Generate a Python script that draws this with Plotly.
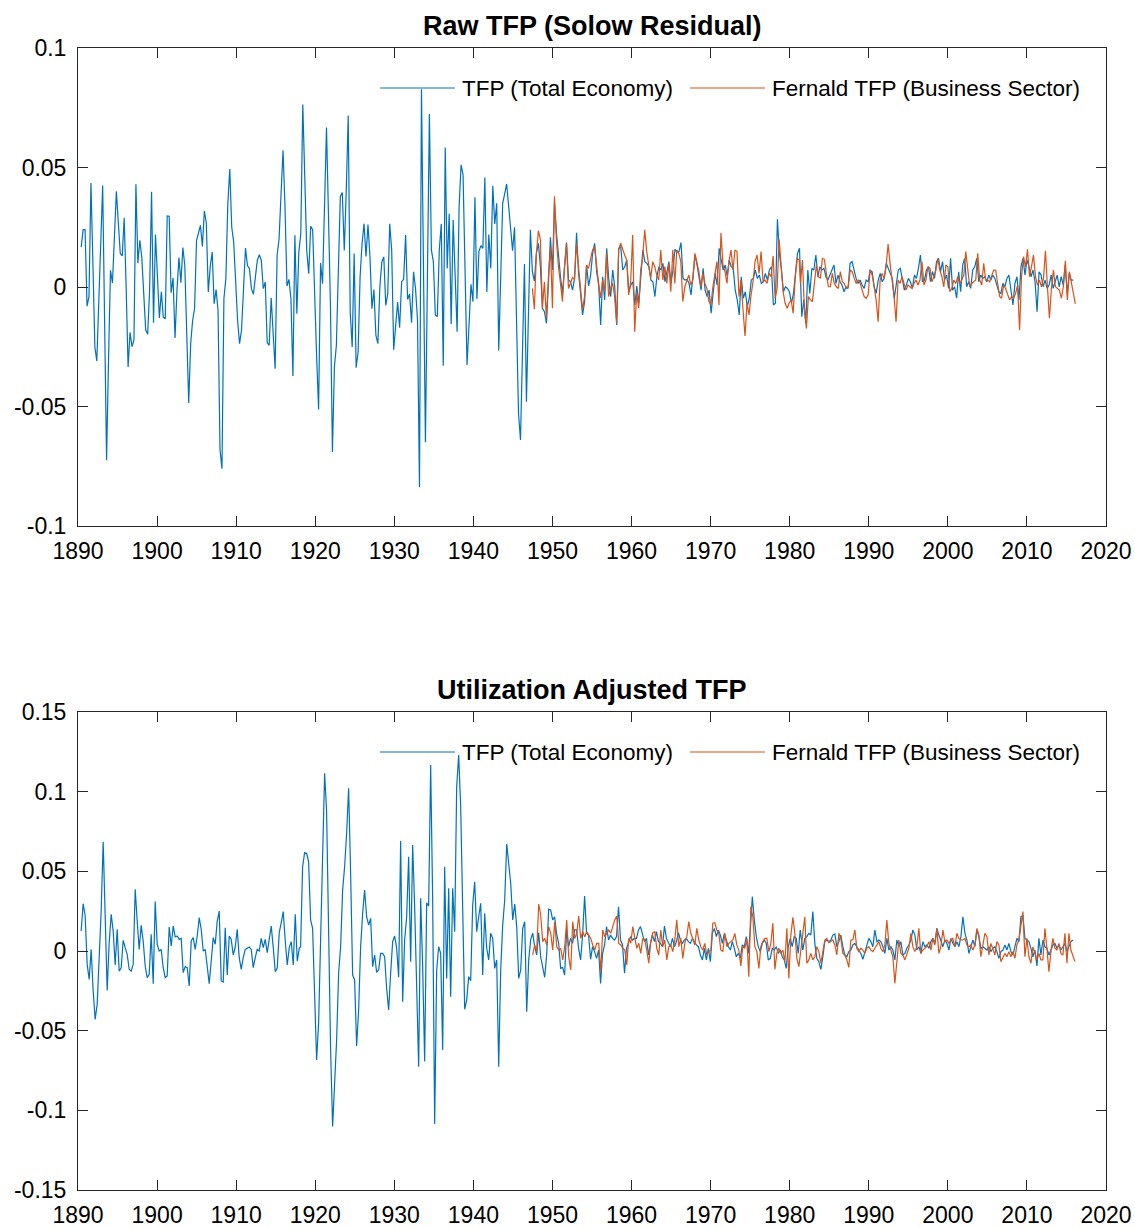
import numpy as np
import plotly.graph_objects as go

# ---------------- data ----------------
# Raw TFP, total economy (blue), pieces with their first/last date
raw_tfp_1890_1910 = [0.0167, 0.024, 0.024, -0.008, -0.004, 0.0435, 0.01, -0.025, -0.031, -0.006, 0.018, 0.0425,
                     -0.015, -0.0725, -0.03, 0.007, 0.0017, 0.021, 0.040, 0.027, 0.014, 0.013, 0.029, 0.0,
                     -0.0335, -0.019, -0.025, -0.022, 0.043, 0.010, 0.0195, 0.0125, -0.003, -0.018, -0.0198,
                     -0.0014, 0.0398, -0.015, 0.022, 0.0014, -0.013, -0.002, -0.0126, -0.0133, 0.0297, 0.0296,
                     -0.0024, 0.0038, -0.0213, -0.0014, 0.0123, 0.0018, 0.0165, 0.009, -0.02, -0.0485, -0.0237,
                     -0.014, -0.009, 0.0195, 0.0226, 0.0258, 0.017, 0.0318, 0.0268, -0.0021, 0.0084, 0.0146,
                     -0.007, -0.0011, -0.0098, -0.068, -0.076, -0.0049, 0.0035, 0.0349, 0.0494, 0.0251, 0.0188,
                     0.003, -0.014, -0.0237]
raw_tfp_1910_1930 = [-0.018, -0.001, 0.0163, 0.009, 0.0077, -0.0007, -0.0031, 0.004, 0.0112, 0.0135, 0.0112,
                     -0.0007, 0.0021, -0.0233, -0.0244, -0.0045, -0.0216, -0.0342, 0.0133, 0.0202, 0.039, 0.0572,
                     0.0335, 0.0004, 0.0032, -0.0049, -0.0372, 0.0216, -0.0112, 0.0146, 0.0223, 0.0764, 0.046,
                     0.0153, 0.0056, 0.0254, 0.024, -0.007, -0.029, -0.0512, 0.010, 0.0014, 0.034, 0.0667, 0.03,
                     -0.0077, -0.069, -0.0335, -0.0244, 0.007, 0.0379, 0.0395, 0.0153, 0.0405, 0.0718, -0.0105,
                     -0.0251, 0.014, -0.0338, -0.0272, 0.0042, 0.0181, 0.0265, 0.0128, 0.0261, 0.0126, -0.0091,
                     -0.0011, -0.0202, -0.0237, 0.0, 0.0105, 0.0126, -0.0077, -0.0028, 0.0265, 0.0153, -0.0262,
                     -0.0153, -0.0063, -0.017]
raw_tfp_1930_1947 = [0.0022, 0.0032, 0.0218, -0.0052, -0.0029, -0.0149, 0.0064, -0.0006, -0.0138, -0.0838, 0.0827,
                     0.009, -0.065, 0.004, 0.0724, 0.0155, 0.0106, -0.0117, -0.0124, 0.0155, 0.0264, -0.0329,
                     0.0584, 0.0078, 0.0306, -0.0156, 0.028, 0.005, -0.0187, 0.0336, 0.0511, 0.0469, 0.007,
                     -0.0326, -0.016, 0.0011, -0.0061, 0.0375, -0.005, 0.0148, 0.0173, 0.0162, 0.0458, -0.0021,
                     0.022, 0.0078, 0.0424, 0.0264, 0.035, -0.0266, 0.004, 0.035, 0.039, 0.0431, 0.034, 0.0252,
                     0.0152, 0.025, -0.014, -0.0529, -0.064, -0.027, 0.0096, -0.048, -0.012, 0.0239]
raw_tfp_1947_1981 = [0.0064, 0.0025, 0.0141, 0.0183, 0.0085, -0.0089, -0.0103, -0.0152, 0.0015, 0.0208, 0.0071,
                     0.035, 0.0225, 0.0113, 0.0043, -0.0027, 0.0071, 0.0186, 0.0029, 0.0022, -0.0013, 0.0036,
                     0.0227, 0.0057, -0.0027, -0.0117, -0.0061, 0.0092, 0.0004, 0.005, 0.0141, 0.0183, 0.0064,
                     0.0008, -0.0159, 0.0043, -0.0054, 0.0162, 0.0036, -0.004, 0.0071, 0.0001, -0.0159, 0.0162,
                     0.0169, 0.0071, 0.0085, 0.0113, -0.002, 0.0008, 0.0022, -0.0075, 0.0004, -0.0068, 0.0043,
                     0.0155, 0.0106, 0.0099, 0.0085, 0.0029, 0.0022, -0.004, 0.0043, 0.0085, 0.0071, 0.0099,
                     0.0022, 0.0071, 0.0106, 0.0015, 0.0071, 0.0158, 0.0144, 0.0148, 0.0186, 0.0036, 0.0029,
                     0.0032, 0.0015, -0.0033, 0.0057, 0.0134, 0.0092, 0.0029, -0.0013, 0.0078, -0.0013, -0.004,
                     -0.0013, -0.011, -0.0013, 0.0057, 0.0008, 0.0162, 0.0113, 0.0071, 0.0092, 0.0046, 0.0113,
                     0.0085, 0.0078, -0.0013, -0.0054, -0.0117, 0.0043, -0.0047, -0.002, -0.0082, -0.0047, 0.0029,
                     0.0036, 0.0071, 0.0036, 0.005, 0.0015, 0.0022, 0.0057, 0.0029, 0.0071, 0.0085, -0.0075,
                     -0.0068, 0.0283, 0.0141, 0.0071, -0.002, 0.0001, -0.0006, -0.002, -0.0068, -0.0027, 0.0071,
                     0.0141, 0.0162]
raw_tfp_1981_2016 = [-0.0124, -0.0054, -0.0152, 0.0071, -0.0027, 0.0078, 0.0071, 0.0134, 0.0043, 0.0085, 0.0071,
                     0.0078, 0.0043, 0.0029, 0.005, 0.0064, 0.0092, 0.0015, 0.005, 0.0022, 0.0008, -0.002, 0.0001,
                     -0.0006, 0.0099, 0.0106, 0.0071, 0.0036, 0.0015, 0.0029, 0.0008, -0.0006, 0.0029, 0.0022,
                     0.0071, 0.0064, 0.0001, -0.0027, 0.0029, 0.0057, 0.0022, 0.0036, 0.0099, 0.0078, 0.005,
                     0.0036, -0.0047, 0.0008, 0.0071, 0.0078, 0.0022, -0.0013, 0.0008, 0.0036, 0.0022, -0.0006,
                     0.005, 0.0036, 0.0078, 0.0134, 0.0022, 0.0029, 0.0071, 0.0085, 0.0022, 0.0064, 0.0036,
                     0.0106, 0.012, 0.0064, 0.0106, 0.0029, 0.005, -0.0006, 0.012, -0.0013, 0.0001, -0.0047,
                     0.0064, -0.002, 0.0092, 0.012, 0.0001, 0.0022, -0.0006, 0.0071, 0.0085, 0.012, 0.0022, 0.005,
                     0.0036, 0.0043, 0.0022, 0.005, 0.0029, 0.005, 0.0036, 0.0008, -0.002, -0.0027, 0.0015, 0.0001,
                     0.0036, 0.005, -0.0013, -0.0075, 0.0015, 0.0043, -0.0054, 0.0085, 0.012, 0.005, 0.0113,
                     0.0085, 0.0043, 0.0071, 0.0022, -0.0103, 0.0064, 0.005, 0.0001, 0.0029, -0.0006, 0.0008,
                     0.005, -0.0006, 0.0022, 0.005, 0.0001, 0.0043, 0.0008, 0.0092, -0.0027, 0.0057, 0.0029,
                     0.0029]

# Raw TFP, Fernald business sector (orange)
fernald_raw_1947_1981 = [-0.0006, -0.0093, 0.0141, 0.0236, 0.0197, -0.0089, 0.0022, -0.0131, 0.0043, 0.0169,
                         -0.0089, 0.038, 0.0197, 0.0085, 0.0015, -0.0061, 0.0085, 0.0183, -0.0006, 0.0015, 0.004,
                         0.0032, 0.0183, 0.0085, -0.0013, -0.0096, -0.004, 0.0092, 0.0078, 0.012, 0.0155, 0.0169,
                         0.0085, 0.0015, -0.0047, 0.0029, -0.002, 0.0141, -0.004, -0.0006, 0.0015, -0.004, -0.0152,
                         0.0155, 0.0183, 0.0155, 0.0134, 0.0113, -0.0033, 0.0022, 0.0218, -0.0187, -0.0027, -0.0089,
                         0.0071, 0.0127, 0.0239, 0.0148, 0.0085, 0.0036, 0.0106, 0.0085, 0.005, 0.0029, 0.0155,
                         0.0029, 0.0085, 0.0015, 0.0099, -0.002, 0.0155, 0.0015, 0.0155, 0.0141, 0.0106, -0.0061,
                         0.0001, 0.0029, 0.005, 0.0008, 0.0029, 0.0141, 0.0106, 0.0064, 0.0001, 0.0057, 0.0015,
                         -0.0006, -0.0061, -0.0075, 0.0001, 0.005, 0.0106, -0.0075, 0.0227, 0.0092, 0.0064, 0.0015,
                         0.0106, 0.0155, 0.0071, 0.0155, 0.0148, -0.004, 0.0029, -0.0096, -0.0205, -0.0068, -0.0117,
                         -0.0033, 0.0022, 0.0106, 0.0134, 0.0057, 0.0148, 0.0022, 0.0029, 0.0015, 0.0057, 0.0043,
                         0.013, -0.0047, -0.0006, 0.02, 0.0078, -0.002, -0.0068, -0.0089, -0.0068, -0.0054, -0.011,
                         0.0036, 0.012, 0.0113]
fernald_raw_1981_2016 = [0.0015, 0.0113, -0.0096, -0.0173, -0.004, -0.0054, -0.0061, 0.0029, 0.0092, 0.0043,
                         0.0036, 0.012, 0.0116, 0.0057, 0.0001, 0.0001, 0.0057, 0.0015, 0.0001, -0.0006, 0.0064,
                         0.0022, 0.0015, -0.0006, 0.0001, 0.0071, 0.0064, 0.0036, 0.0015, 0.0029, 0.0015, -0.0013,
                         -0.004, -0.0047, -0.0033, 0.0071, 0.005, 0.0001, -0.0054, -0.0145, 0.0029, 0.0057, 0.0036,
                         0.0085, 0.018, 0.0099, 0.0036, -0.004, -0.0145, 0.0029, 0.0015, 0.0043, 0.0015, -0.0013,
                         0.0008, 0.0001, -0.0006, 0.0015, 0.0029, 0.0008, 0.0029, 0.0106, 0.0008, 0.0029, 0.0085,
                         0.0078, 0.0022, 0.0043, 0.0071, 0.012, 0.0071, 0.0043, 0.0001, 0.0092, 0.0085, -0.002,
                         -0.0006, 0.0029, 0.0015, 0.0043, 0.0015, 0.0029, 0.005, 0.0148, 0.0064, 0.0001, 0.0015,
                         0.0022, 0.0029, 0.0141, 0.0029, 0.0008, 0.0099, 0.0029, 0.0029, 0.0022, 0.0043, 0.0071,
                         0.0071, 0.0015, -0.004, -0.0047, 0.0008, -0.0006, -0.0027, -0.0054, -0.004, -0.0047,
                         -0.0027, 0.0008, -0.018, 0.0043, 0.0127, 0.0085, 0.0158, 0.0043, 0.0085, 0.0134, 0.0043,
                         0.0008, 0.0029, 0.0001, 0.0036, 0.0152, 0.0001, -0.0131, -0.0006, 0.0071, 0.0001, -0.0006,
                         -0.0013, -0.0047, 0.0001, 0.011, -0.0054, 0.0064, 0.0015, -0.0027, -0.0071]

# Utilization adjusted TFP, total economy (blue)
util_tfp_1890_1918 = [0.0126, 0.0297, 0.022, -0.0084, -0.0178, 0.001, -0.0251, -0.0429, -0.0335, -0.0063, 0.0251,
                      0.0686, 0.0251, -0.0247, 0.0052, 0.023, 0.0126, -0.0088, 0.0136, -0.0126, -0.0105, 0.0067,
                      0.0021, -0.0021, -0.0115, -0.0126, -0.0084, 0.0387, 0.0188, 0.001, 0.0161, 0.0063, -0.0094,
                      -0.0167, -0.0146, 0.0105, -0.0205, 0.031, 0.0042, 0.0, 0.001, -0.0105, -0.0167, -0.0157,
                      0.0151, 0.0031, 0.0157, 0.0088, 0.0094, 0.0073, 0.0079, -0.0136, -0.0098, -0.0105, -0.022,
                      0.0063, 0.0084, 0.001, 0.0094, 0.0209, 0.0136, 0.0, 0.001, -0.0105, -0.0205, -0.0063, 0.0084,
                      0.0042, 0.0188, 0.0251, -0.0188, -0.0195, 0.0146, -0.0151, 0.0094, 0.0073, -0.0025, 0.0025,
                      0.0136, -0.0042, -0.0115, -0.0042, 0.001, 0.0017, 0.0025, 0.001, -0.0105, -0.0042, 0.001,
                      0.0, 0.0079, 0.0021, 0.0073, -0.001, 0.0073, 0.0157, 0.0021, -0.013, -0.0105, 0.0115, 0.0178,
                      0.0247, 0.0063, -0.0088, 0.0021, 0.0059, -0.0088, 0.023, -0.0063, 0.0017]
util_tfp_1918_1947 = [0.0027, 0.0529, 0.0617, 0.0613, 0.0561, 0.0195, 0.0142, -0.0245, -0.0684, -0.0454, 0.0069,
                      0.0655, 0.1115, 0.0874, 0.0069, -0.0621, -0.1102, -0.0831, -0.0559, -0.014, 0.0027, 0.0383,
                      0.0529, 0.0738, 0.1021, 0.0487, -0.0151, -0.0182, -0.0596, -0.037, 0.0027, 0.0236, 0.0383,
                      0.0215, 0.0163, 0.0205, -0.0098, -0.0025, -0.0134, -0.0119, -0.0015, -0.0015, -0.0036,
                      -0.0234, -0.037, -0.014, 0.0059, 0.0094, 0.0017, -0.0165, 0.069, -0.0318, 0.0069, 0.0215,
                      0.0592, -0.0067, 0.0665, 0.0278, -0.0224, -0.0726, 0.0331, -0.0098, -0.0694, 0.0303, 0.0282,
                      0.1167, 0.032, -0.1086, -0.0119, 0.0027, -0.0015, -0.0621, 0.0529, -0.0172, 0.0393, -0.0287,
                      0.0393, 0.0121, 0.1031, 0.123, 0.0906, 0.0236, -0.0366, -0.0308, -0.0161, -0.0186, 0.0289,
                      0.0435, 0.0121, 0.0215, 0.0299, -0.0151, 0.0236, 0.0017, -0.0056, 0.0111, 0.0079, -0.0109,
                      -0.0056, -0.0726, -0.0119, 0.0163, 0.032, 0.0672, 0.0561, 0.0425, 0.0195, 0.0295, 0.0153,
                      -0.0172, -0.0119, 0.0142, 0.0184, -0.0381, -0.0056, 0.0073]
util_tfp_1947_1981 = [0.0111, 0.0027, -0.0025, 0.0115, -0.0036, -0.0098, -0.0165, -0.0025, 0.0262, 0.0257, 0.0195,
                      0.0215, 0.0107, 0.0048, -0.0109, -0.0103, -0.0151, 0.0132, 0.0027, 0.0079, 0.0048, 0.0132,
                      0.0132, 0.0017, -0.0056, 0.01, 0.0345, 0.0111, 0.01, -0.0052, 0.0027, -0.0004, -0.0046,
                      0.0006, -0.0203, -0.0015, 0.0038, 0.0153, 0.0069, 0.01, 0.0079, 0.0069, 0.009, 0.0278, 0.0069,
                      0.0038, -0.014, 0.0017, 0.0059, 0.009, 0.0069, 0.0079, 0.0079, 0.0132, 0.0153, 0.0111, 0.0059,
                      0.0079, -0.0025, 0.0048, 0.01, 0.0059, 0.0121, 0.0059, 0.0048, 0.0027, 0.0157, 0.0079, 0.0048,
                      0.0027, 0.0079, 0.0027, 0.0059, 0.0115, 0.0069, 0.0048, 0.0069, 0.0079, 0.0059, 0.0048,
                      0.0079, 0.0059, 0.0038, 0.0027, -0.0025, -0.0056, 0.0017, -0.0056, 0.0017, -0.0067, 0.0111,
                      0.0142, 0.009, 0.0132, 0.01, 0.0048, 0.0111, 0.0069, 0.0027, 0.0006, 0.0059, 0.0017, -0.0036,
                      -0.0015, -0.0046, 0.0038, 0.0027, 0.009, -0.0015, 0.0132, 0.0341, 0.0195, 0.009, 0.0027,
                      -0.0004, 0.0048, 0.0069, 0.0048, -0.0056, -0.0046, 0.0017, 0.0006, 0.0027, -0.0015, 0.0006,
                      -0.0036, -0.0056, -0.0109, 0.0027, 0.0079, 0.0027, 0.009, 0.0079, -0.0015, 0.0132]
util_tfp_1981_2016 = [0.0006, 0.0079, 0.009, 0.0111, 0.01, 0.0247, 0.0048, -0.0046, -0.0067, -0.0115, -0.0036,
                      0.0059, 0.0069, 0.0059, 0.0069, 0.01, 0.0107, 0.0027, 0.0059, 0.01, 0.0027, -0.0025, -0.0036,
                      -0.0004, 0.0006, 0.0038, 0.0048, 0.0027, 0.0006, -0.0015, -0.0052, -0.0004, 0.0027, 0.0079,
                      0.0059, 0.0027, 0.0132, 0.0059, 0.0069, 0.0059, 0.0027, -0.0015, 0.0079, 0.0006, 0.0027,
                      0.0006, -0.0056, 0.0069, 0.0027, 0.0059, -0.0025, -0.0015, 0.0017, 0.0038, 0.0069, 0.0132,
                      0.01, 0.0006, 0.0027, -0.0015, 0.0059, 0.0027, 0.0038, 0.0017, 0.0059, 0.0079, 0.0048, 0.0142,
                      0.01, 0.0059, 0.0027, 0.0069, 0.0048, 0.0006, 0.0079, 0.0048, 0.0027, 0.0059, 0.0027, 0.009,
                      0.0215, 0.0111, 0.0069, -0.0015, 0.0027, 0.0069, 0.0027, 0.0132, 0.009, 0.0017, 0.0027,
                      0.0017, 0.0006, 0.0027, -0.0004, 0.0017, 0.0027, -0.0004, -0.0046, -0.0004, 0.0006, 0.0038,
                      0.0006, 0.0048, -0.0004, -0.0025, 0.0027, 0.0079, 0.0059, 0.0215, 0.022, 0.0079, 0.0069,
                      0.0059, 0.0017, -0.0036, 0.0006, -0.0094, 0.0079, -0.0025, 0.0069, 0.0027, 0.0017, -0.0025,
                      0.0006, 0.0038, 0.0048, 0.0017, 0.0038, 0.0006, 0.0027, 0.0048, -0.0004, 0.0027, 0.0059,
                      0.0069]

# Utilization adjusted TFP, Fernald business sector (orange)
fernald_util_1947_1981 = [-0.0025, 0.0038, -0.0004, 0.0295, 0.0226, 0.0059, 0.0079, 0.0038, 0.0153, 0.0111, 0.0006,
                          0.0184, 0.0027, 0.0006, 0.0017, -0.0056, 0.0027, 0.0195, -0.0036, -0.0119, 0.0184, 0.0079,
                          0.0111, 0.022, 0.0079, 0.0121, 0.009, 0.0121, 0.01, 0.0079, 0.0038, 0.0006, 0.0048, 0.0048,
                          -0.013, 0.0132, 0.009, 0.0111, 0.0132, 0.0111, 0.0153, 0.0195, 0.022, 0.0048, 0.0038,
                          0.0017, 0.0006, -0.0088, 0.0079, 0.0048, 0.0153, 0.009, 0.0017, 0.0048, -0.0015, 0.0079,
                          0.0069, 0.0006, -0.0077, 0.0059, 0.0115, 0.0121, 0.0017, -0.0025, 0.0132, 0.0027, 0.0069,
                          -0.0056, 0.0027, 0.0038, -0.0004, 0.0069, 0.0195, 0.0027, 0.0079, -0.0046, 0.0048, 0.009,
                          0.0184, 0.0111, 0.0079, 0.0038, 0.0142, 0.0069, 0.0027, 0.0006, 0.0048, -0.0025, -0.0004,
                          0.0006, 0.0174, 0.0178, 0.0132, 0.0111, 0.0006, -0.0004, 0.0111, 0.0027, 0.0048, 0.0059,
                          0.0069, 0.0111, 0.0038, 0.0006, -0.0094, 0.0027, 0.0017, 0.0079, -0.0161, 0.0278, 0.0215,
                          0.0027, -0.0004, -0.0109, 0.0027, 0.0059, 0.0079, 0.0079, -0.0004, 0.0048, 0.0174, -0.0115,
                          -0.0015, 0.0017, -0.0015, 0.0006, -0.0067, 0.0142, -0.0172, 0.01, 0.0211, 0.0111, -0.0046,
                          -0.0098]
fernald_util_1981_2016 = [0.01, 0.0215, -0.0077, -0.0056, -0.0015, -0.0056, -0.0036, 0.0027, -0.0004, -0.0077,
                          -0.0004, 0.0069, 0.0079, 0.0052, 0.0059, 0.0069, 0.0038, -0.0025, 0.0111, 0.0079, -0.0015,
                          -0.0025, -0.0056, -0.0103, 0.0069, 0.0069, 0.0132, 0.0017, -0.0004, 0.0017, 0.0006,
                          -0.0015, 0.0017, 0.0027, 0.0006, -0.0004, 0.0017, 0.0038, 0.0059, 0.0017, -0.0004, 0.0038,
                          0.0195, 0.0048, -0.0004, -0.0036, -0.0203, -0.0077, 0.0069, -0.0015, -0.0025, -0.0056,
                          -0.0015, 0.0017, 0.0111, 0.0027, -0.0004, 0.0027, 0.0142, -0.0015, 0.0006, 0.0017, 0.0027,
                          0.0059, 0.0006, 0.0079, 0.0038, 0.0142, -0.0015, 0.0027, 0.0132, 0.0059, 0.0069, 0.0048,
                          0.0069, 0.0079, 0.0027, 0.0111, 0.0079, 0.0069, 0.0069, 0.0079, 0.0038, 0.0027, 0.0038,
                          0.0006, 0.0038, 0.0142, 0.01, -0.0036, 0.0027, 0.0111, 0.009, -0.0025, 0.0048, 0.0006,
                          -0.0025, 0.0059, 0.0038, -0.0067, -0.0036, -0.0015, -0.0036, -0.0004, -0.0036, -0.0004,
                          -0.0046, 0.0038, 0.0069, 0.0153, 0.0247, -0.0036, 0.0079, -0.0036, -0.0077, 0.0027, -0.0015,
                          -0.0056, -0.0015, -0.0056, -0.0056, 0.0142, 0.0017, -0.013, -0.0004, 0.0079, 0.0017, 0.0006,
                          0.0048, -0.0015, -0.0025, 0.0111, -0.0077, 0.0111, 0.0006, -0.0036, -0.0067]

# first and last date (decimal year) of each piece
raw_blue_pieces = [(1890.40, 1910.43, raw_tfp_1890_1910), (1910.68, 1930.67, raw_tfp_1910_1930),
                   (1930.93, 1947.21, raw_tfp_1930_1947), (1947.46, 1981.24, raw_tfp_1947_1981),
                   (1981.53, 2015.86, raw_tfp_1981_2016)]
raw_orange_pieces = [(1947.46, 1981.20, fernald_raw_1947_1981), (1981.36, 2016.12, fernald_raw_1981_2016)]
util_blue_pieces = [(1890.40, 1917.98, util_tfp_1890_1918), (1918.15, 1947.25, util_tfp_1918_1947),
                    (1947.50, 1981.33, util_tfp_1947_1981), (1981.66, 2015.82, util_tfp_1981_2016)]
util_orange_pieces = [(1947.50, 1981.16, fernald_util_1947_1981), (1981.66, 2016.07, fernald_util_1981_2016)]

series_names = ["TFP (Total Economy)", "Fernald TFP (Business Sector)"]
panel_titles = ["Raw TFP (Solow Residual)", "Utilization Adjusted TFP"]
x_ticks = list(range(1890, 2030, 10))
raw_y_ticks = [-0.1, -0.05, 0, 0.05, 0.1]
raw_y_labels = ["-0.1", "-0.05", "0", "0.05", "0.1"]
util_y_ticks = [-0.15, -0.1, -0.05, 0, 0.05, 0.1, 0.15]
util_y_labels = ["-0.15", "-0.1", "-0.05", "0", "0.05", "0.1", "0.15"]

BLUE = "#0072BD"
ORANGE = "#D95319"
AXC = "#262626"
FONT = "Liberation Sans, Arial, Helvetica, sans-serif"


def join(pieces):
    xs, ys = [], []
    for start, end, vals in pieces:
        xs.extend(np.linspace(start, end, len(vals)).tolist())
        ys.extend(vals)
    return xs, ys


fig = go.Figure()
for pieces, color, name, ax in [
    (raw_blue_pieces, BLUE, series_names[0], ("x", "y")),
    (raw_orange_pieces, ORANGE, series_names[1], ("x", "y")),
    (util_blue_pieces, BLUE, series_names[0], ("x2", "y2")),
    (util_orange_pieces, ORANGE, series_names[1], ("x2", "y2")),
]:
    xs, ys = join(pieces)
    fig.add_trace(go.Scatter(x=xs, y=ys, mode="lines", name=name, showlegend=False,
                             line=dict(color=color, width=1.2), xaxis=ax[0], yaxis=ax[1]))

W, H = 1135, 1228
ML, MR, MT, MB = 78, 29, 48, 38
plot_h = H - MT - MB
plot_w = W - ML - MR
top_bottom_px = 526
bot_top_px = 712
dom_top = [(H - MB - top_bottom_px) / plot_h, 1.0]
dom_bot = [0.0, (H - MB - bot_top_px) / plot_h]

common_x = dict(range=[1890, 2020], tickvals=x_ticks, ticktext=[str(v) for v in x_ticks],
                ticks="inside", ticklen=10, tickwidth=1, tickcolor=AXC, showline=True, linecolor=AXC,
                linewidth=1, mirror="ticks", showgrid=False, zeroline=False, automargin=False,
                tickfont=dict(family=FONT, size=23, color="#000000"), ticklabelstandoff=4)
common_y = dict(ticks="inside", ticklen=10, tickwidth=1, tickcolor=AXC, showline=True, linecolor=AXC,
                linewidth=1, mirror="ticks", showgrid=False, zeroline=False, automargin=False,
                tickfont=dict(family=FONT, size=23, color="#000000"), ticklabelstandoff=6)

fig.update_layout(
    width=W, height=H, margin=dict(l=ML, r=MR, t=MT, b=MB, autoexpand=False),
    paper_bgcolor="white", plot_bgcolor="white", showlegend=False,
    xaxis=dict(domain=[0, 1], anchor="y", **common_x),
    yaxis=dict(domain=dom_top, anchor="x", range=[-0.1, 0.1], tickvals=raw_y_ticks, ticktext=raw_y_labels,
               **common_y),
    xaxis2=dict(domain=[0, 1], anchor="y2", **common_x),
    yaxis2=dict(domain=dom_bot, anchor="x2", range=[-0.15, 0.15], tickvals=util_y_ticks,
                ticktext=util_y_labels, **common_y),
)

# titles
for title, dom in [(panel_titles[0], dom_top), (panel_titles[1], dom_bot)]:
    fig.add_annotation(text="<b>%s</b>" % title, xref="paper", yref="paper", x=0.5, y=dom[1],
                       xanchor="center", yanchor="bottom", yshift=5, showarrow=False,
                       font=dict(family=FONT, size=27, color="#000000"))

# MATLAB-style legend (no box, long line samples), top right of each panel
for dom in (dom_top, dom_bot):
    ly = dom[1] - 40 / plot_h
    for (x0, x1, tx), color, name in [((380, 455, 460), BLUE, series_names[0]),
                                       ((690, 765, 770), ORANGE, series_names[1])]:
        fig.add_shape(type="line", xref="paper", yref="paper", x0=(x0 - ML) / plot_w, x1=(x1 - ML) / plot_w,
                      y0=ly, y1=ly, line=dict(color=color, width=1.2))
        fig.add_annotation(text=name, xref="paper", yref="paper", x=(tx - ML) / plot_w, y=ly,
                           xanchor="left", yanchor="middle", showarrow=False,
                           font=dict(family=FONT, size=22.5, color="#000000"))

fig.write_html("out.html")
